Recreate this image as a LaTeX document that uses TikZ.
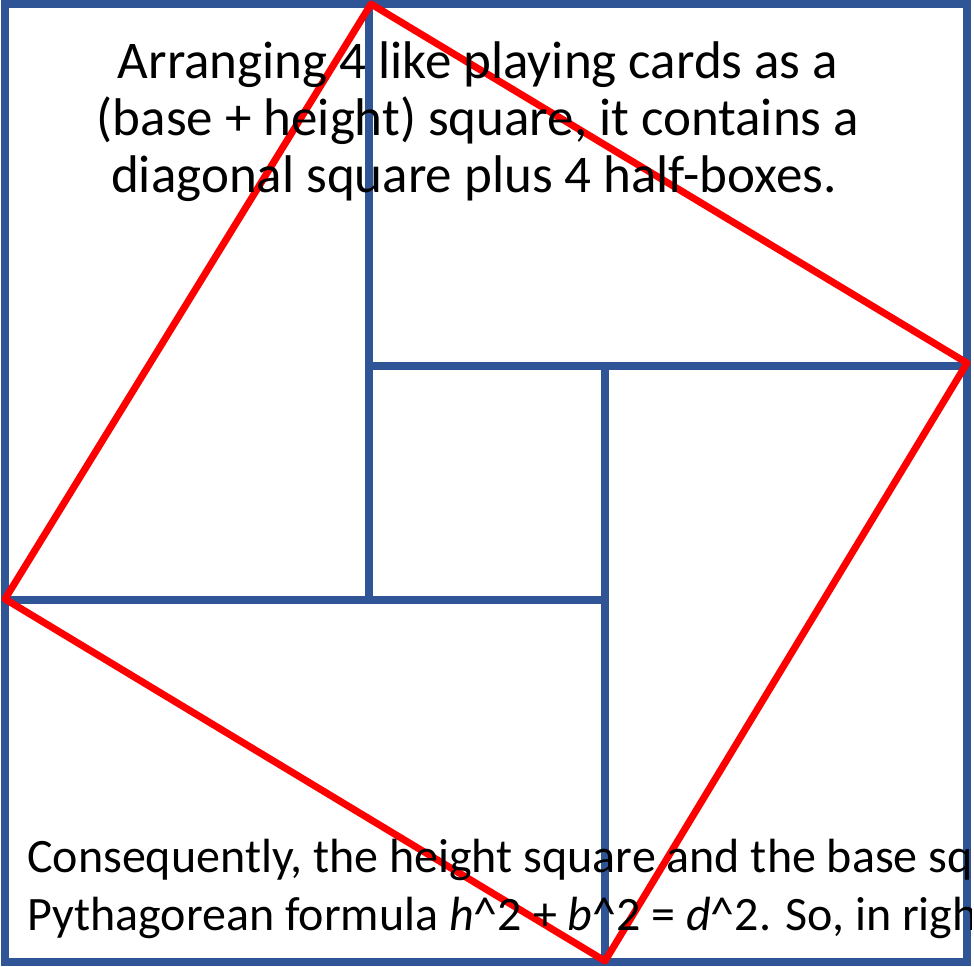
\documentclass[tikz,border=0pt]{standalone}
\usepackage{fontspec}
\setmainfont{Carlito}
\definecolor{cardblue}{RGB}{47,85,151}
\definecolor{diagred}{RGB}{255,0,0}
\begin{document}
\begin{tikzpicture}[x=1pt,y=-1pt,
  card/.style={draw=cardblue,line width=8pt},
  diag/.style={draw=diagred,line width=7pt,line cap=round,line join=round},
  txt/.style={inner sep=0pt,anchor=base,font=\fontsize{53}{57}\selectfont},
  txtl/.style={inner sep=0pt,anchor=base west,font=\fontsize{48}{57}\selectfont}]
\useasboundingbox (0,0) rectangle (974,966);
\fill[white] (0,0) rectangle (974,966);
% grid coordinates
\coordinate (A) at (5,4);
\coordinate (B) at (369,600);
\coordinate (C) at (369,4);
\coordinate (D) at (967,366);
\coordinate (E) at (605,366);
\coordinate (F) at (967,962);
\coordinate (G) at (5,600);
\coordinate (H) at (605,962);
% cards
\draw[card] (A) rectangle (B);
\draw[card] (C) rectangle (D);
\draw[card] (E) rectangle (F);
\draw[card] (G) rectangle (H);
% diagonal square
\coordinate (pL) at (5,599);
\coordinate (pT) at (371,4);
\coordinate (pR) at (967,363);
\coordinate (pB) at (605,961);
\draw[diag] (pL) -- (pT) -- (pR) -- (pB) -- cycle;
% texts
\node[txt] (t1) at (478,78) {Arranging 4 like playing cards as a};
\node[txt] (t2) at (478,135) {(base + height) square, it contains a};
\node[txt] (t3) at (474,192) {diagonal square plus 4 half-boxes.};
\begin{scope}
\clip (0,0) rectangle (971,966);
\node[txtl] (b1) at (27,872) {Consequently, the height square and the base sq};
\node[txtl] (b2) at (27,930) {Pythagorean formula \textit{h}\^{}2 + \textit{b}\^{}2 = \textit{d}\^{}2. So, in righ};
\end{scope}
\end{tikzpicture}
\end{document}
